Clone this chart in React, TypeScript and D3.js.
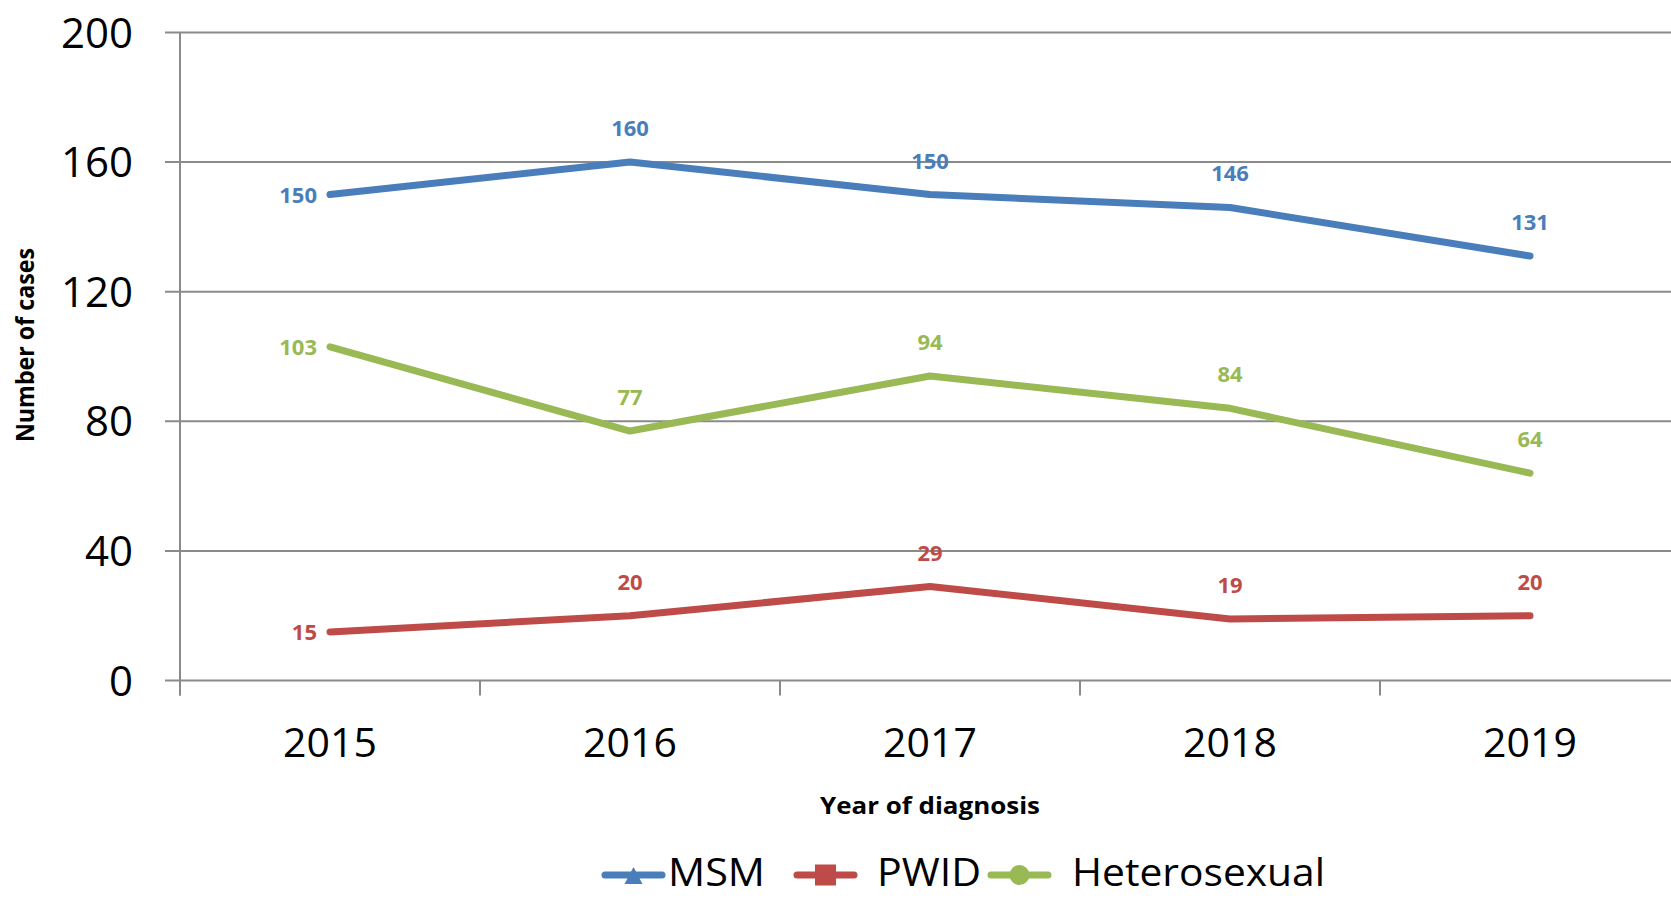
import React, { useEffect, useRef } from 'react';
import * as d3 from 'd3';

const years = ['2015', '2016', '2017', '2018', '2019'];
const msm = [150, 160, 150, 146, 131];
const pwid = [15, 20, 29, 19, 20];
const hetero = [103, 77, 94, 84, 64];
const yTicks = [0, 40, 80, 120, 160, 200];
const seriesNames = ['MSM', 'PWID', 'Heterosexual'];
const seriesColors = ['#4A7EBB', '#BE4B48', '#98B954'];
const seriesMarkers = ['triangle', 'square', 'circle'];

const W = 1671;
const H = 898;
const FONT = '"Open Sans", "Noto Sans", sans-serif';

export default function App() {
  const ref = useRef<SVGSVGElement>(null);

  useEffect(() => {
    const svg = d3.select(ref.current);
    svg.selectAll('*').remove();

    const plotLeft = 180;
    const plotRight = 1680; // plot runs off the right edge, like the original
    const plotTop = 32.5;
    const plotBottom = 680.5;

    const x = d3.scaleBand<string>().domain(years).range([plotLeft, plotRight]).padding(0);
    const cx = (d: string) => (x(d) as number) + x.bandwidth() / 2;
    const y = d3.scaleLinear().domain([0, 200]).range([plotBottom, plotTop]);

    // gridlines + y ticks
    const grid = svg.append('g');
    grid.selectAll('line')
      .data(yTicks)
      .enter()
      .append('line')
      .attr('x1', plotLeft - 15)
      .attr('x2', W)
      .attr('y1', (d) => y(d))
      .attr('y2', (d) => y(d))
      .attr('stroke', '#8a8a8a')
      .attr('stroke-width', 2);

    grid.selectAll('text')
      .data(yTicks)
      .enter()
      .append('text')
      .text((d) => d)
      .attr('x', 133)
      .attr('y', (d) => y(d))
      .attr('dy', '0.36em')
      .attr('text-anchor', 'end')
      .attr('font-family', FONT)
      .attr('font-size', 42)
      .attr('fill', '#000');

    // y axis line
    svg.append('line')
      .attr('x1', plotLeft).attr('x2', plotLeft)
      .attr('y1', plotTop).attr('y2', plotBottom + 15)
      .attr('stroke', '#8a8a8a').attr('stroke-width', 2);

    // x ticks at category boundaries
    const bounds = years.map((d) => x(d) as number).concat([plotRight]);
    svg.append('g').selectAll('line')
      .data(bounds)
      .enter()
      .append('line')
      .attr('x1', (d) => d).attr('x2', (d) => d)
      .attr('y1', plotBottom).attr('y2', plotBottom + 15)
      .attr('stroke', '#8a8a8a').attr('stroke-width', 2);

    svg.append('g').selectAll('text')
      .data(years)
      .enter()
      .append('text')
      .text((d) => d)
      .attr('x', (d) => cx(d))
      .attr('y', 757)
      .attr('text-anchor', 'middle')
      .attr('font-family', FONT)
      .attr('font-size', 41)
      .attr('fill', '#000');

    // axis titles
    svg.append('text')
      .text('Year of diagnosis')
      .attr('x', 930)
      .attr('y', 814)
      .attr('text-anchor', 'middle')
      .attr('font-family', FONT)
      .attr('font-weight', 'bold')
      .attr('font-size', 24)
      .attr('textLength', 220)
      .attr('lengthAdjust', 'spacingAndGlyphs');

    svg.append('text')
      .text('Number of cases')
      .attr('font-family', FONT)
      .attr('font-weight', 'bold')
      .attr('font-size', 25)
      .attr('text-anchor', 'middle')
      .attr('textLength', 194)
      .attr('lengthAdjust', 'spacingAndGlyphs')
      .attr('transform', `translate(34,345) rotate(-90)`);

    // series
    const allSeries = [msm, pwid, hetero];
    const line = d3.line<number>()
      .x((d, i) => cx(years[i]))
      .y((d) => y(d));

    allSeries.forEach((values, s) => {
      const color = seriesColors[s];
      svg.append('path')
        .datum(values)
        .attr('d', line)
        .attr('fill', 'none')
        .attr('stroke', color)
        .attr('stroke-width', 7)
        .attr('stroke-linecap', 'round')
        .attr('stroke-linejoin', 'round');

      svg.append('g').selectAll('text')
        .data(values)
        .enter()
        .append('text')
        .text((d) => d)
        .attr('x', (d, i) => (i === 0 ? cx(years[i]) - 13 : cx(years[i])))
        .attr('y', (d, i) => (i === 0 ? y(d) + 8 : y(d) - 26))
        .attr('text-anchor', (d, i) => (i === 0 ? 'end' : 'middle'))
        .attr('font-family', FONT)
        .attr('font-weight', 'bold')
        .attr('font-size', 22)
        .attr('fill', color);
    });

    // legend
    const legendX = [605, 797, 991];
    const legendTextX = [668, 877, 1072];
    const legendTextW = [97, 104, 253];
    const ly = 875;
    const legend = svg.append('g');
    seriesNames.forEach((name, s) => {
      const color = seriesColors[s];
      const x0 = legendX[s];
      legend.append('line')
        .attr('x1', x0).attr('x2', x0 + 57)
        .attr('y1', ly).attr('y2', ly)
        .attr('stroke', color).attr('stroke-width', 7)
        .attr('stroke-linecap', 'round');
      const m = seriesMarkers[s];
      const mx = x0 + 28.5;
      if (m === 'triangle') {
        legend.append('path')
          .attr('d', `M${mx},${ly - 8} L${mx + 9},${ly + 9} L${mx - 9},${ly + 9} Z`)
          .attr('fill', color);
      } else if (m === 'square') {
        legend.append('rect')
          .attr('x', mx - 10.5).attr('y', ly - 10.5)
          .attr('width', 21).attr('height', 21)
          .attr('fill', color);
      } else {
        legend.append('circle')
          .attr('cx', mx).attr('cy', ly).attr('r', 10)
          .attr('fill', color);
      }
      legend.append('text')
        .text(name)
        .attr('x', legendTextX[s])
        .attr('y', 886)
        .attr('font-family', FONT)
        .attr('font-size', 39)
        .attr('textLength', legendTextW[s])
        .attr('lengthAdjust', 'spacingAndGlyphs')
        .attr('fill', '#000');
    });
  }, []);

  return (
    <div style={{ position: 'absolute', left: 0, top: 0 }}>
      <svg ref={ref} width={W} height={H} style={{ display: 'block', background: '#fff' }} />
    </div>
  );
}
